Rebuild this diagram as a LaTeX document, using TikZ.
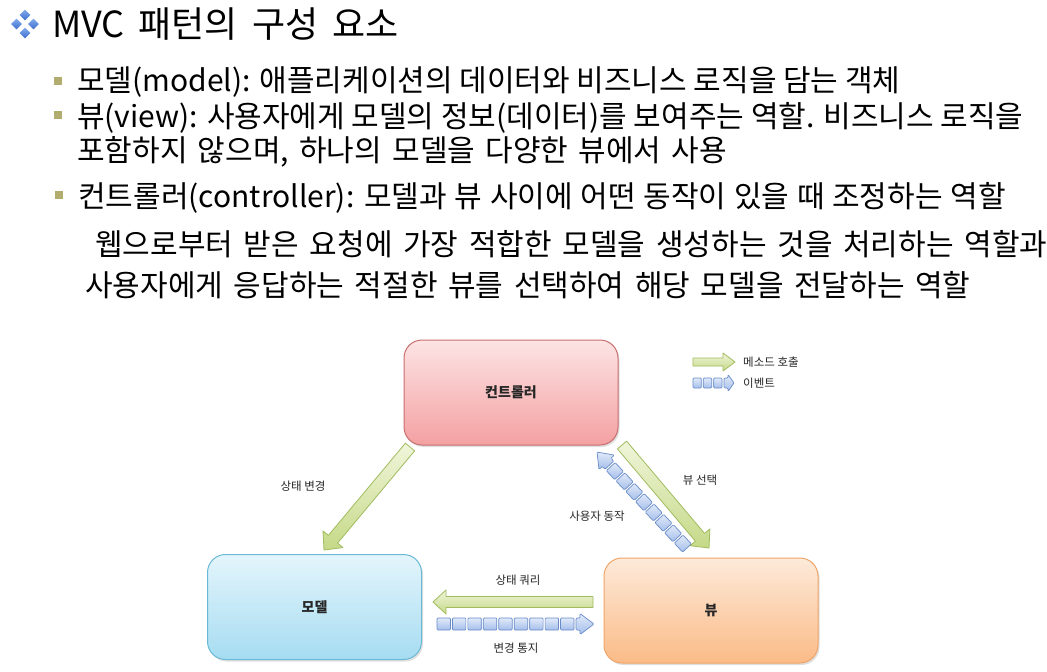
\documentclass[tikz,border=0pt]{standalone}
\usepackage{fontspec}
\setmainfont{Noto Sans CJK KR}
\usetikzlibrary{shadows,calc}

\definecolor{gfillA}{RGB}{240,245,218}
\definecolor{gfillB}{RGB}{197,217,135}
\definecolor{gdraw}{RGB}{160,188,95}
\definecolor{bfillA}{RGB}{225,234,249}
\definecolor{bfillB}{RGB}{165,190,234}
\definecolor{bdraw}{RGB}{105,140,200}
\definecolor{ctrlA}{RGB}{253,228,228}
\definecolor{ctrlB}{RGB}{244,160,162}
\definecolor{ctrlD}{RGB}{200,110,110}
\definecolor{modA}{RGB}{228,245,252}
\definecolor{modB}{RGB}{166,220,241}
\definecolor{modD}{RGB}{105,185,213}
\definecolor{viewA}{RGB}{253,234,218}
\definecolor{viewB}{RGB}{251,187,135}
\definecolor{viewD}{RGB}{240,165,105}
\definecolor{bulletol}{RGB}{178,173,110}
\definecolor{diamA}{RGB}{130,170,235}
\definecolor{diamB}{RGB}{60,110,205}

\newcommand\mvcgeom[2]{%
  \pgfpointdiff{\pgfpointanchor{#1}{center}}{\pgfpointanchor{#2}{center}}%
  \pgfgetlastxy{\mvcdx}{\mvcdy}%
  \pgfmathsetmacro\mvcang{atan2(\mvcdy,\mvcdx)}%
  \pgfmathsetmacro\mvclen{veclen(\mvcdx,\mvcdy)}%
}
% green block arrow: from, to, shaft width, head width, head length
\newcommand\callarrow[5]{%
  \mvcgeom{#1}{#2}%
  \begin{scope}[shift={(#1)}, rotate=\mvcang, x=1pt, y=1pt]
    \path[callstyle] (0,-#3/2) -- ({\mvclen-#5},-#3/2) -- ({\mvclen-#5},-#4/2)
      -- (\mvclen,0) -- ({\mvclen-#5},#4/2) -- ({\mvclen-#5},#3/2) -- (0,#3/2) -- cycle;
  \end{scope}}
% event arrow: from, to, number of boxes, box height, head width, head length
\newcommand\eventarrow[6]{%
  \mvcgeom{#1}{#2}%
  \pgfmathsetmacro\mvcpitch{(\mvclen-#6)/#3}%
  \pgfmathsetmacro\mvcbox{\mvcpitch-2}%
  \pgfmathsetmacro\mvcstart{#3*\mvcpitch}%
  \begin{scope}[shift={(#1)}, rotate=\mvcang, x=1pt, y=1pt]
    \foreach \k in {1,...,#3} {
      \path[eventstyle] ({(\k-1)*\mvcpitch},-#4/2) rectangle ++(\mvcbox,#4);
    }
    \path[eventstyle] (\mvcstart,-#4/2) -- ++(4,0) -- ({\mvcstart+4},-#5/2)
      -- (\mvclen,0) -- ({\mvcstart+4},#5/2) -- ({\mvcstart+4},#4/2) -- (\mvcstart,#4/2) -- cycle;
  \end{scope}}
\newcommand\widerspaces[1]{\spaceskip=\dimexpr\fontdimen2\font+#1\relax}

\tikzset{
  callstyle/.style={draw=gdraw, line width=0.8pt, top color=gfillA, bottom color=gfillB, line join=round},
  eventstyle/.style={draw=bdraw, line width=0.7pt, top color=bfillA, bottom color=bfillB, rounded corners=1pt, line join=round},
  mvcbox/.style={rounded corners=18pt, line width=1pt, minimum width=214pt, minimum height=105pt,
    font=\fontsize{14}{16}\selectfont\bfseries, text=black!85,
    drop shadow={opacity=0.25, shadow xshift=1.5pt, shadow yshift=-2pt}},
  lbl/.style={font=\fontsize{11.5}{14}\selectfont, text=black!85, inner sep=0},
  bodyline/.style={anchor=base west, inner sep=0, font=\fontsize{30}{34}\selectfont},
  sqbullet/.style={fill=bulletol, minimum size=8pt, inner sep=0},
  diambullet/.style={top color=diamA, bottom color=diamB, minimum size=7.5pt, inner sep=0, rotate=45}
}

\begin{document}
\begin{tikzpicture}[x=1pt, y=-1pt]
\useasboundingbox (0,0) rectangle (1047,672);
\fill[white] (0,0) rectangle (1047,672);

% title
\node[diambullet] (d1) at (25,15) {};
\node[diambullet] (d2) at (16.5,24) {};
\node[diambullet] (d3) at (33.5,24) {};
\node[diambullet] (d4) at (25,33) {};
\node[anchor=base west, inner sep=0, font=\fontsize{36}{42}\selectfont] (title) at (52,37) {\widerspaces{6pt}MVC 패턴의 구성 요소};

% bullets
\node[sqbullet] (b1) at (58,81) {};
\node[sqbullet] (b2) at (58,115) {};
\node[sqbullet] (b3) at (59,195) {};
\node[bodyline] (l1) at (77,91) {모델(model): 애플리케이션의 데이터와 비즈니스 로직을 담는 객체};
\node[bodyline] (l2) at (77,127) {뷰(view): 사용자에게 모델의 정보(데이터)를 보여주는 역할. 비즈니스 로직을};
\node[bodyline] (l3) at (77,161) {\widerspaces{3.6pt}포함하지 않으며, 하나의 모델을 다양한 뷰에서 사용};
\node[bodyline] (l4) at (78,207) {\widerspaces{1pt}컨트롤러(controller): 모델과 뷰 사이에 어떤 동작이 있을 때 조정하는 역할};
\node[bodyline] (l5) at (95,255) {\widerspaces{4pt}웹으로부터 받은 요청에 가장 적합한 모델을 생성하는 것을 처리하는 역할과};
\node[bodyline] (l6) at (85,296) {\widerspaces{3.9pt}사용자에게 응답하는 적절한 뷰를 선택하여 해당 모델을 전달하는 역할};

% boxes
\node[mvcbox, draw=ctrlD, top color=ctrlA, bottom color=ctrlB] (ctrl) at (511,392.5) {컨트롤러};
\node[mvcbox, draw=modD, top color=modA, bottom color=modB] (model) at (314.5,607) {모델};
\node[mvcbox, draw=viewD, top color=viewA, bottom color=viewB] (view) at (711,610.5) {뷰};

% connector end points
\coordinate (sc1) at (410,447);
\coordinate (sc2) at (324,550);
\coordinate (vs1) at (622,445);
\coordinate (vs2) at (709,548);
\coordinate (ua1) at (687,548);
\coordinate (ua2) at (597,452);
\coordinate (sq1) at (593,602);
\coordinate (sq2) at (433,602);
\coordinate (cn1) at (437,624);
\coordinate (cn2) at (594,624);
\coordinate (lg1a) at (693,362);
\coordinate (lg1b) at (735,362);
\coordinate (lg2a) at (693,383);
\coordinate (lg2b) at (734,383);

\callarrow{sc1}{sc2}{12}{26}{14}
\callarrow{vs1}{vs2}{12}{26}{14}
\callarrow{sq1}{sq2}{11}{24}{13}
\eventarrow{ua1}{ua2}{8}{12}{21}{18}
\eventarrow{cn1}{cn2}{9}{12}{21}{18}

% legend
\callarrow{lg1a}{lg1b}{8}{18}{12}
\eventarrow{lg2a}{lg2b}{3}{10}{17}{10}
\node[lbl, anchor=west] (lgt1) at (743,362) {메소드 호출};
\node[lbl, anchor=west] (lgt2) at (743,383) {이벤트};

% labels
\node[lbl] (t1) at (303,486) {상태 변경};
\node[lbl] (t2) at (700,480) {뷰 선택};
\node[lbl] (t3) at (597,516) {사용자 동작};
\node[lbl] (t4) at (518,580) {상태 쿼리};
\node[lbl] (t5) at (516,648) {변경 통지};
\end{tikzpicture}
\end{document}
